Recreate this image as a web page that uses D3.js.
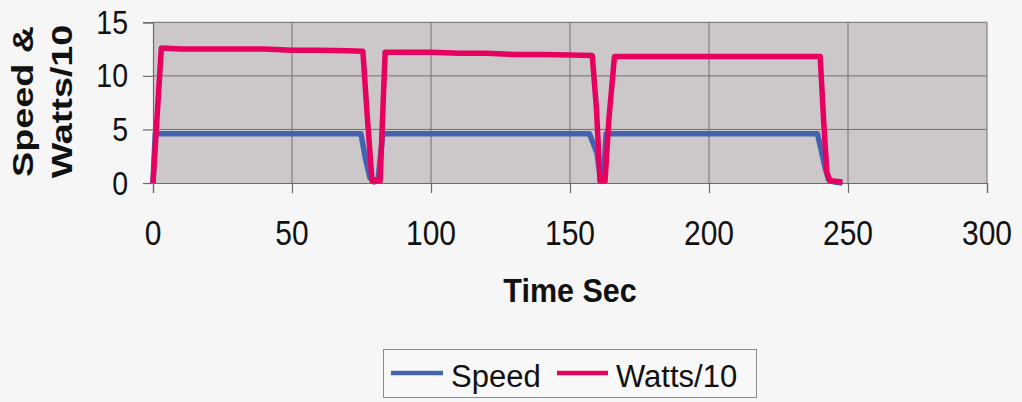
<!DOCTYPE html>
<html><head><meta charset="utf-8">
<script src="https://cdn.jsdelivr.net/npm/d3@7"></script>
<style>
html,body{margin:0;padding:0;background:#f6f6f6;}
svg{display:block;}
text{font-family:"Liberation Sans",Arial,sans-serif;fill:#111;}
</style></head>
<body>
<svg id="chart" width="1022" height="402"></svg>
<script>
// ---- data ----
const xTicks = [0, 50, 100, 150, 200, 250, 300];
const yTicks = [0, 5, 10, 15];
const seriesNames = ["Speed", "Watts/10"];

const speedTime   = [0, 0.8, 10, 20, 30, 40, 50, 60, 70, 74.8, 76.5, 78, 79.5, 81, 82.7, 90, 100, 110, 120, 130, 140, 150, 157, 159.7, 161, 162, 163, 170, 180, 190, 200, 210, 220, 230, 239, 241.7, 243, 245, 248];
const speedValues = [0, 4.6, 4.6, 4.6, 4.6, 4.6, 4.6, 4.6, 4.6, 4.6, 2.2, 0.5, 0.1, 0.5, 4.6, 4.6, 4.6, 4.6, 4.6, 4.6, 4.6, 4.6, 4.6, 2.8, 0.3, 0.3, 4.6, 4.6, 4.6, 4.6, 4.6, 4.6, 4.6, 4.6, 4.6, 1.5, 0.3, 0.1, 0.0];

const wattsTime   = [0, 3, 10, 20, 30, 40, 50, 60, 70, 75.5, 77, 78.8, 81.7, 83.5, 90, 100, 110, 120, 130, 140, 150, 158, 159.5, 160.8, 162.6, 164, 166, 175, 185, 195, 205, 215, 225, 235, 240, 241.2, 242.4, 243.5, 248];
const wattsValues = [0, 12.6, 12.5, 12.5, 12.5, 12.5, 12.4, 12.4, 12.35, 12.3, 6.5, 0.2, 0.2, 12.2, 12.2, 12.2, 12.1, 12.1, 12.0, 12.0, 11.95, 11.9, 7.0, 0.2, 0.2, 6.0, 11.8, 11.8, 11.8, 11.8, 11.8, 11.8, 11.8, 11.8, 11.8, 6.0, 1.0, 0.2, 0.1];

const colors = ["#4363b0", "#e8005e"];

// ---- chart ----
const svg = d3.select("#chart");
const x = d3.scaleLinear().domain([0, 300]).range([153, 987]);
const y = d3.scaleLinear().domain([0, 15]).range([183, 22.3]);

// plot background
svg.append("rect")
  .attr("x", x(0)).attr("y", y(15))
  .attr("width", x(300) - x(0)).attr("height", y(0) - y(15))
  .attr("fill", "#ccc8c9");

// gridlines
svg.append("g").selectAll("line").data(yTicks.filter(d => d > 0)).join("line")
  .attr("x1", x(0)).attr("x2", x(300))
  .attr("y1", d => y(d)).attr("y2", d => y(d))
  .attr("stroke", "#707070").attr("stroke-width", 1);
svg.append("g").selectAll("line").data(xTicks.filter(d => d > 0)).join("line")
  .attr("y1", y(0)).attr("y2", y(15))
  .attr("x1", d => x(d)).attr("x2", d => x(d))
  .attr("stroke", "#707070").attr("stroke-width", 1);

// axes
const xAxis = d3.axisBottom(x).tickValues(xTicks).tickSize(10).tickFormat("");
const yAxis = d3.axisLeft(y).tickValues(yTicks).tickSize(10).tickFormat("");
const gx = svg.append("g").attr("transform", `translate(0,${y(0)})`).call(xAxis);
const gy = svg.append("g").attr("transform", `translate(${x(0)},0)`).call(yAxis);
[gx, gy].forEach(g => {
  g.select(".domain").attr("stroke", "#6a6a6a").attr("stroke-width", 1.2);
  g.selectAll(".tick line").attr("stroke", "#6a6a6a").attr("stroke-width", 1.2);
});

// tick labels (slightly stretched vertically like the reference)
svg.append("g").selectAll("text").data(xTicks).join("text")
  .attr("transform", d => `translate(${x(d)},245) scale(1,1.15)`)
  .attr("text-anchor", "middle")
  .style("font-size", "30px")
  .text(d => d);
svg.append("g").selectAll("text").data(yTicks).join("text")
  .attr("transform", d => `translate(128,${y(d) + 11.5}) scale(1,1.15)`)
  .attr("text-anchor", "end")
  .style("font-size", "28.5px")
  .text(d => d);

// axis titles
svg.append("text")
  .attr("transform", "translate(570,302) scale(1,1.1)")
  .attr("text-anchor", "middle")
  .style("font-size", "30.5px").style("font-weight", "bold")
  .text("Time Sec");
const yTitle = ["Speed &", "Watts/10"];
svg.append("g").selectAll("text").data(yTitle).join("text")
  .attr("transform", (d, i) => `translate(${i === 0 ? 33 : 72},101.5) rotate(-90) scale(1.3,1)`)
  .attr("text-anchor", "middle")
  .style("font-size", "29px").style("font-weight", "bold")
  .text(d => d);

// lines
const line = d3.line().x(d => x(d[0])).y(d => y(d[1]));
const speedData = speedTime.map((t, i) => [t, speedValues[i]]);
const wattsData = wattsTime.map((t, i) => [t, wattsValues[i]]);
[speedData, wattsData].forEach((data, i) => {
  svg.append("path").datum(data)
    .attr("d", line)
    .attr("fill", "none")
    .attr("stroke", colors[i])
    .attr("stroke-width", 5.5)
    .attr("stroke-linejoin", "round");
});

// legend
const lg = svg.append("g");
lg.append("rect").attr("x", 383.5).attr("y", 349.5).attr("width", 373).attr("height", 48)
  .attr("fill", "#f8f8f8").attr("stroke", "#8a8a8a").attr("stroke-width", 1);
const legendItems = [
  {x1: 391, x2: 443, tx: 451},
  {x1: 557, x2: 608, tx: 616}
];
legendItems.forEach((it, i) => {
  lg.append("line").attr("x1", it.x1).attr("x2", it.x2).attr("y1", 373).attr("y2", 373)
    .attr("stroke", colors[i]).attr("stroke-width", 4.5);
  lg.append("text").attr("x", it.tx).attr("y", 387)
    .style("font-size", "31px")
    .text(seriesNames[i]);
});
</script>
</body></html>
